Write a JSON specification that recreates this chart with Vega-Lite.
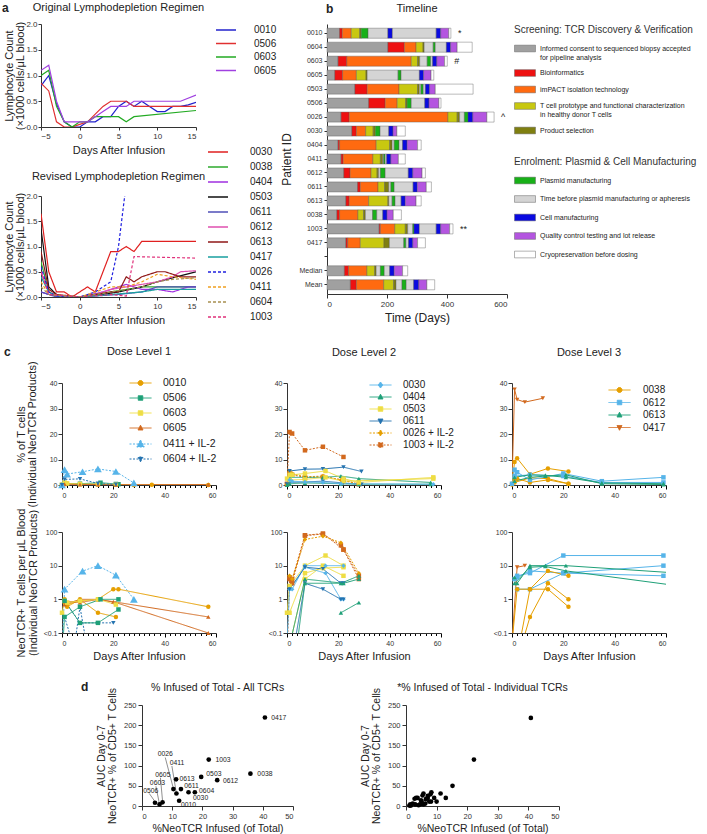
{
"$schema": "https://vega.github.io/schema/vega-lite/v6.json",
"padding": {"left": 2, "top": 2, "right": 2, "bottom": 2},
"config": {
  "font": "Liberation Sans",
  "view": {"stroke": null},
  "axis": {"grid": false, "domainColor": "#333", "tickColor": "#333", "labelColor": "#333", "titleColor": "#222", "titleFontWeight": "normal", "labelFontSize": 7.5, "titleFontSize": 10.5, "tickSize": 4, "labelPadding": 2},
  "title": {"fontSize": 11, "fontWeight": "normal", "color": "#222"},
  "legend": {"labelColor": "#222", "titleFontWeight": "normal", "labelLimit": 400, "titleLimit": 400}
},
"datasets": {
  "aTop": [
    {"p":"0010","d":-5,"v":0.8},{"p":"0010","d":-4,"v":1.0},{"p":"0010","d":-3,"v":0.45},{"p":"0010","d":-2,"v":0.1},{"p":"0010","d":-1,"v":0.0},{"p":"0010","d":0,"v":0.0},{"p":"0010","d":1,"v":0.1},{"p":"0010","d":2,"v":0.1},{"p":"0010","d":3,"v":0.2},{"p":"0010","d":4,"v":0.2},{"p":"0010","d":5,"v":0.4},{"p":"0010","d":6,"v":0.5},{"p":"0010","d":7,"v":0.4},{"p":"0010","d":8,"v":0.5},{"p":"0010","d":9,"v":0.4},{"p":"0010","d":10,"v":0.3},{"p":"0010","d":11,"v":0.3},{"p":"0010","d":12,"v":0.4},{"p":"0010","d":13,"v":0.4},{"p":"0010","d":14,"v":0.43},{"p":"0010","d":15,"v":0.48},
    {"p":"0506","d":-5,"v":0.85},{"p":"0506","d":-4,"v":0.7},{"p":"0506","d":-3,"v":0.1},{"p":"0506","d":-2,"v":0.0},{"p":"0506","d":-1,"v":0.0},{"p":"0506","d":0,"v":0.05},{"p":"0506","d":1,"v":0.1},{"p":"0506","d":2,"v":0.25},{"p":"0506","d":3,"v":0.4},{"p":"0506","d":4,"v":0.5},{"p":"0506","d":5,"v":0.5},{"p":"0506","d":6,"v":0.5},{"p":"0506","d":7,"v":0.4},{"p":"0506","d":8,"v":0.4},{"p":"0506","d":15,"v":0.4},
    {"p":"0603","d":-5,"v":1.0},{"p":"0603","d":-4,"v":1.1},{"p":"0603","d":-3,"v":0.4},{"p":"0603","d":-2,"v":0.1},{"p":"0603","d":-1,"v":0.0},{"p":"0603","d":0,"v":0.1},{"p":"0603","d":1,"v":0.1},{"p":"0603","d":2,"v":0.2},{"p":"0603","d":3,"v":0.2},{"p":"0603","d":4,"v":0.2},{"p":"0603","d":5,"v":0.2},{"p":"0603","d":6,"v":0.1},{"p":"0603","d":7,"v":0.2},{"p":"0603","d":15,"v":0.32},
    {"p":"0605","d":-5,"v":1.1},{"p":"0605","d":-4,"v":1.2},{"p":"0605","d":-3,"v":0.5},{"p":"0605","d":-2,"v":0.1},{"p":"0605","d":-1,"v":0.1},{"p":"0605","d":0,"v":0.1},{"p":"0605","d":1,"v":0.1},{"p":"0605","d":2,"v":0.2},{"p":"0605","d":3,"v":0.3},{"p":"0605","d":4,"v":0.4},{"p":"0605","d":5,"v":0.4},{"p":"0605","d":6,"v":0.4},{"p":"0605","d":7,"v":0.5},{"p":"0605","d":13,"v":0.5},{"p":"0605","d":15,"v":0.62}
  ],
  "aBot": [
    {"p":"0030","d":-5,"v":1.65},{"p":"0030","d":-4,"v":0.5},{"p":"0030","d":-3,"v":0.1},{"p":"0030","d":-2,"v":0.1},{"p":"0030","d":-1,"v":0.0},{"p":"0030","d":0,"v":0.1},{"p":"0030","d":1,"v":0.2},{"p":"0030","d":2,"v":0.1},{"p":"0030","d":3,"v":0.5},{"p":"0030","d":4,"v":0.9},{"p":"0030","d":5,"v":0.9},{"p":"0030","d":6,"v":1.0},{"p":"0030","d":7,"v":0.9},{"p":"0030","d":8,"v":1.1},{"p":"0030","d":15,"v":1.1},
    {"p":"0038","d":-5,"v":0.7},{"p":"0038","d":-4,"v":0.1},{"p":"0038","d":-3,"v":0.02},{"p":"0038","d":-2,"v":0.0},{"p":"0038","d":0,"v":0.0},{"p":"0038","d":2,"v":0.05},{"p":"0038","d":4,"v":0.1},{"p":"0038","d":6,"v":0.15},{"p":"0038","d":8,"v":0.2},{"p":"0038","d":15,"v":0.2},
    {"p":"0404","d":-5,"v":0.1},{"p":"0404","d":-4,"v":0.05},{"p":"0404","d":-3,"v":0.02},{"p":"0404","d":0,"v":0.0},{"p":"0404","d":3,"v":0.1},{"p":"0404","d":5,"v":0.2},{"p":"0404","d":6,"v":0.25},{"p":"0404","d":8,"v":0.15},{"p":"0404","d":10,"v":0.15},{"p":"0404","d":12,"v":0.1},{"p":"0404","d":13,"v":0.15},{"p":"0404","d":14,"v":0.2},{"p":"0404","d":15,"v":0.2},
    {"p":"0503","d":-5,"v":1.35},{"p":"0503","d":-4,"v":0.2},{"p":"0503","d":-3,"v":0.05},{"p":"0503","d":-2,"v":0.0},{"p":"0503","d":0,"v":0.0},{"p":"0503","d":3,"v":0.05},{"p":"0503","d":5,"v":0.1},{"p":"0503","d":8,"v":0.2},{"p":"0503","d":10,"v":0.3},{"p":"0503","d":15,"v":0.5},
    {"p":"0611","d":-5,"v":0.1},{"p":"0611","d":-4,"v":0.05},{"p":"0611","d":-3,"v":0.0},{"p":"0611","d":0,"v":0.0},{"p":"0611","d":5,"v":0.05},{"p":"0611","d":8,"v":0.1},{"p":"0611","d":10,"v":0.2},{"p":"0611","d":15,"v":0.2},
    {"p":"0612","d":-5,"v":0.5},{"p":"0612","d":-4,"v":0.1},{"p":"0612","d":-3,"v":0.02},{"p":"0612","d":0,"v":0.0},{"p":"0612","d":2,"v":0.05},{"p":"0612","d":4,"v":0.15},{"p":"0612","d":6,"v":0.2},{"p":"0612","d":8,"v":0.25},{"p":"0612","d":10,"v":0.3},{"p":"0612","d":12,"v":0.4},{"p":"0612","d":13,"v":0.5},{"p":"0612","d":15,"v":0.52},
    {"p":"0613","d":-5,"v":0.9},{"p":"0613","d":-4,"v":0.15},{"p":"0613","d":-3,"v":0.05},{"p":"0613","d":0,"v":0.0},{"p":"0613","d":2,"v":0.05},{"p":"0613","d":4,"v":0.1},{"p":"0613","d":5,"v":0.1},{"p":"0613","d":6,"v":0.4},{"p":"0613","d":7,"v":0.3},{"p":"0613","d":8,"v":0.4},{"p":"0613","d":9,"v":0.45},{"p":"0613","d":10,"v":0.5},{"p":"0613","d":11,"v":0.5},{"p":"0613","d":12,"v":0.45},{"p":"0613","d":13,"v":0.4},{"p":"0613","d":15,"v":0.4},
    {"p":"0417","d":-5,"v":0.4},{"p":"0417","d":-4,"v":0.1},{"p":"0417","d":-3,"v":0.02},{"p":"0417","d":0,"v":0.0},{"p":"0417","d":4,"v":0.05},{"p":"0417","d":8,"v":0.1},{"p":"0417","d":10,"v":0.15},{"p":"0417","d":15,"v":0.15},
    {"p":"0026","d":-5,"v":0.6},{"p":"0026","d":-4,"v":0.1},{"p":"0026","d":-3,"v":0.02},{"p":"0026","d":-1,"v":0.0},{"p":"0026","d":0,"v":0.0},{"p":"0026","d":2,"v":0.1},{"p":"0026","d":3,"v":0.2},{"p":"0026","d":4,"v":0.3},{"p":"0026","d":5,"v":1.0},{"p":"0026","d":5.8,"v":2.0},
    {"p":"0411","d":-5,"v":0.3},{"p":"0411","d":-4,"v":0.05},{"p":"0411","d":0,"v":0.0},{"p":"0411","d":4,"v":0.2},{"p":"0411","d":6,"v":0.2},{"p":"0411","d":8,"v":0.3},{"p":"0411","d":10,"v":0.45},{"p":"0411","d":12,"v":0.4},{"p":"0411","d":15,"v":0.35},
    {"p":"0604","d":-5,"v":0.2},{"p":"0604","d":-4,"v":0.05},{"p":"0604","d":0,"v":0.0},{"p":"0604","d":4,"v":0.1},{"p":"0604","d":8,"v":0.2},{"p":"0604","d":10,"v":0.3},{"p":"0604","d":12,"v":0.35},{"p":"0604","d":15,"v":0.38},
    {"p":"1003","d":-5,"v":0.5},{"p":"1003","d":-4,"v":0.05},{"p":"1003","d":0,"v":0.0},{"p":"1003","d":4,"v":0.05},{"p":"1003","d":6,"v":0.02},{"p":"1003","d":7,"v":0.8},{"p":"1003","d":15,"v":0.77}
  ],
  "tl": [
    {"p":"0010","c":"IC","a":0,"b":42},{"p":"0010","c":"BI","a":42,"b":51},{"p":"0010","c":"IM","a":51,"b":81},{"p":"0010","c":"TC","a":81,"b":109},{"p":"0010","c":"PS","a":109,"b":114},{"p":"0010","c":"PM","a":114,"b":137},{"p":"0010","c":"TB","a":137,"b":203},{"p":"0010","c":"CM","a":203,"b":218},{"p":"0010","c":"TB","a":218,"b":364},{"p":"0010","c":"CM","a":364,"b":379},{"p":"0010","c":"QC","a":379,"b":406},{"p":"0010","c":"CR","a":406,"b":413},
    {"p":"0604","c":"IC","a":0,"b":203},{"p":"0604","c":"BI","a":203,"b":258},{"p":"0604","c":"IM","a":258,"b":297},{"p":"0604","c":"TC","a":297,"b":320},{"p":"0604","c":"PS","a":320,"b":324},{"p":"0604","c":"TB","a":324,"b":354},{"p":"0604","c":"PM","a":354,"b":361},{"p":"0604","c":"TB","a":361,"b":398},{"p":"0604","c":"CM","a":398,"b":412},{"p":"0604","c":"QC","a":412,"b":434},{"p":"0604","c":"CR","a":434,"b":484},
    {"p":"0603","c":"IC","a":0,"b":37},{"p":"0603","c":"BI","a":37,"b":66},{"p":"0603","c":"IM","a":66,"b":281},{"p":"0603","c":"TC","a":281,"b":302},{"p":"0603","c":"PS","a":302,"b":309},{"p":"0603","c":"TB","a":309,"b":334},{"p":"0603","c":"PM","a":334,"b":346},{"p":"0603","c":"TB","a":346,"b":352},{"p":"0603","c":"CM","a":352,"b":366},{"p":"0603","c":"QC","a":366,"b":392},{"p":"0603","c":"CR","a":392,"b":401},
    {"p":"0605","c":"IC","a":0,"b":26},{"p":"0605","c":"BI","a":26,"b":52},{"p":"0605","c":"IM","a":52,"b":98},{"p":"0605","c":"TC","a":98,"b":130},{"p":"0605","c":"PS","a":130,"b":134},{"p":"0605","c":"TB","a":134,"b":237},{"p":"0605","c":"PM","a":237,"b":247},{"p":"0605","c":"TB","a":247,"b":308},{"p":"0605","c":"CM","a":308,"b":322},{"p":"0605","c":"QC","a":322,"b":347},{"p":"0605","c":"CR","a":347,"b":356},
    {"p":"0503","c":"IC","a":0,"b":93},{"p":"0503","c":"BI","a":93,"b":134},{"p":"0503","c":"IM","a":134,"b":240},{"p":"0503","c":"TC","a":240,"b":302},{"p":"0503","c":"PS","a":302,"b":308},{"p":"0503","c":"TB","a":308,"b":313},{"p":"0503","c":"PM","a":313,"b":321},{"p":"0503","c":"TB","a":321,"b":328},{"p":"0503","c":"CM","a":328,"b":342},{"p":"0503","c":"QC","a":342,"b":361},{"p":"0503","c":"CR","a":361,"b":487},
    {"p":"0506","c":"IC","a":0,"b":139},{"p":"0506","c":"BI","a":139,"b":194},{"p":"0506","c":"IM","a":194,"b":234},{"p":"0506","c":"TC","a":234,"b":262},{"p":"0506","c":"PS","a":262,"b":267},{"p":"0506","c":"PM","a":267,"b":281},{"p":"0506","c":"TB","a":281,"b":326},{"p":"0506","c":"CM","a":326,"b":340},{"p":"0506","c":"QC","a":340,"b":373},{"p":"0506","c":"CR","a":373,"b":380},
    {"p":"0026","c":"IC","a":0,"b":47},{"p":"0026","c":"BI","a":47,"b":74},{"p":"0026","c":"IM","a":74,"b":403},{"p":"0026","c":"TC","a":403,"b":434},{"p":"0026","c":"PS","a":434,"b":442},{"p":"0026","c":"TB","a":442,"b":458},{"p":"0026","c":"PM","a":458,"b":470},{"p":"0026","c":"CM","a":470,"b":486},{"p":"0026","c":"QC","a":486,"b":533},{"p":"0026","c":"CR","a":533,"b":557},
    {"p":"0030","c":"IC","a":0,"b":83},{"p":"0030","c":"BI","a":83,"b":98},{"p":"0030","c":"IM","a":98,"b":129},{"p":"0030","c":"TC","a":129,"b":154},{"p":"0030","c":"PS","a":154,"b":161},{"p":"0030","c":"PM","a":161,"b":177},{"p":"0030","c":"TB","a":177,"b":206},{"p":"0030","c":"CM","a":206,"b":220},{"p":"0030","c":"QC","a":220,"b":233},{"p":"0030","c":"CR","a":233,"b":261},
    {"p":"0404","c":"IC","a":0,"b":37},{"p":"0404","c":"BI","a":37,"b":42},{"p":"0404","c":"IM","a":42,"b":164},{"p":"0404","c":"TC","a":164,"b":209},{"p":"0404","c":"PS","a":209,"b":217},{"p":"0404","c":"TB","a":217,"b":224},{"p":"0404","c":"PM","a":224,"b":240},{"p":"0404","c":"TB","a":240,"b":252},{"p":"0404","c":"CM","a":252,"b":267},{"p":"0404","c":"QC","a":267,"b":302},{"p":"0404","c":"CR","a":302,"b":314},
    {"p":"0411","c":"IC","a":0,"b":47},{"p":"0411","c":"BI","a":47,"b":54},{"p":"0411","c":"IM","a":54,"b":153},{"p":"0411","c":"TC","a":153,"b":178},{"p":"0411","c":"PS","a":178,"b":186},{"p":"0411","c":"TB","a":186,"b":189},{"p":"0411","c":"PM","a":189,"b":194},{"p":"0411","c":"TB","a":194,"b":199},{"p":"0411","c":"CM","a":199,"b":213},{"p":"0411","c":"QC","a":213,"b":238},{"p":"0411","c":"CR","a":238,"b":261},
    {"p":"0612","c":"IC","a":0,"b":56},{"p":"0612","c":"BI","a":56,"b":77},{"p":"0612","c":"IM","a":77,"b":147},{"p":"0612","c":"TC","a":147,"b":167},{"p":"0612","c":"PS","a":167,"b":172},{"p":"0612","c":"TB","a":172,"b":178},{"p":"0612","c":"PM","a":178,"b":194},{"p":"0612","c":"TB","a":194,"b":271},{"p":"0612","c":"CM","a":271,"b":286},{"p":"0612","c":"QC","a":286,"b":317},{"p":"0612","c":"CR","a":317,"b":328},
    {"p":"0611","c":"IC","a":0,"b":102},{"p":"0611","c":"BI","a":102,"b":111},{"p":"0611","c":"IM","a":111,"b":170},{"p":"0611","c":"TC","a":170,"b":192},{"p":"0611","c":"PS","a":192,"b":206},{"p":"0611","c":"TB","a":206,"b":213},{"p":"0611","c":"PM","a":213,"b":224},{"p":"0611","c":"TB","a":224,"b":287},{"p":"0611","c":"CM","a":287,"b":301},{"p":"0611","c":"QC","a":301,"b":331},{"p":"0611","c":"CR","a":331,"b":348},
    {"p":"0613","c":"IC","a":0,"b":63},{"p":"0613","c":"BI","a":63,"b":74},{"p":"0613","c":"IM","a":74,"b":139},{"p":"0613","c":"TC","a":139,"b":203},{"p":"0613","c":"PS","a":203,"b":206},{"p":"0613","c":"TB","a":206,"b":217},{"p":"0613","c":"PM","a":217,"b":227},{"p":"0613","c":"TB","a":227,"b":247},{"p":"0613","c":"CM","a":247,"b":261},{"p":"0613","c":"QC","a":261,"b":297},{"p":"0613","c":"CR","a":297,"b":314},
    {"p":"0038","c":"IC","a":0,"b":33},{"p":"0038","c":"BI","a":33,"b":42},{"p":"0038","c":"IM","a":42,"b":103},{"p":"0038","c":"TC","a":103,"b":122},{"p":"0038","c":"PS","a":122,"b":128},{"p":"0038","c":"TB","a":128,"b":152},{"p":"0038","c":"PM","a":152,"b":166},{"p":"0038","c":"TB","a":166,"b":186},{"p":"0038","c":"CM","a":186,"b":200},{"p":"0038","c":"QC","a":200,"b":221},{"p":"0038","c":"CR","a":221,"b":248},
    {"p":"1003","c":"IC","a":0,"b":174},{"p":"1003","c":"BI","a":174,"b":178},{"p":"1003","c":"IM","a":178,"b":226},{"p":"1003","c":"TC","a":226,"b":261},{"p":"1003","c":"PS","a":261,"b":269},{"p":"1003","c":"TB","a":269,"b":286},{"p":"1003","c":"PM","a":286,"b":290},{"p":"1003","c":"CM","a":290,"b":308},{"p":"1003","c":"TB","a":308,"b":364},{"p":"1003","c":"CM","a":364,"b":379},{"p":"1003","c":"QC","a":379,"b":409},{"p":"1003","c":"CR","a":409,"b":420},
    {"p":"0417","c":"IC","a":0,"b":63},{"p":"0417","c":"BI","a":63,"b":69},{"p":"0417","c":"IM","a":69,"b":111},{"p":"0417","c":"TC","a":111,"b":190},{"p":"0417","c":"PS","a":190,"b":208},{"p":"0417","c":"TB","a":208,"b":256},{"p":"0417","c":"PM","a":256,"b":263},{"p":"0417","c":"TB","a":263,"b":272},{"p":"0417","c":"CM","a":272,"b":286},{"p":"0417","c":"QC","a":286,"b":302},{"p":"0417","c":"CR","a":302,"b":328},
    {"p":"Median","c":"IC","a":0,"b":58},{"p":"Median","c":"BI","a":58,"b":72},{"p":"Median","c":"IM","a":72,"b":133},{"p":"Median","c":"TC","a":133,"b":159},{"p":"Median","c":"PS","a":159,"b":164},{"p":"Median","c":"TB","a":164,"b":178},{"p":"Median","c":"PM","a":178,"b":191},{"p":"Median","c":"TB","a":191,"b":209},{"p":"Median","c":"CM","a":209,"b":224},{"p":"Median","c":"QC","a":224,"b":252},{"p":"Median","c":"CR","a":252,"b":269},
    {"p":"Mean","c":"IC","a":0,"b":78},{"p":"Mean","c":"BI","a":78,"b":98},{"p":"Mean","c":"IM","a":98,"b":189},{"p":"Mean","c":"TC","a":189,"b":222},{"p":"Mean","c":"PS","a":222,"b":230},{"p":"Mean","c":"TB","a":230,"b":250},{"p":"Mean","c":"PM","a":250,"b":264},{"p":"Mean","c":"TB","a":264,"b":289},{"p":"Mean","c":"CM","a":289,"b":306},{"p":"Mean","c":"QC","a":306,"b":333},{"p":"Mean","c":"CR","a":333,"b":359}
  ],
  "tlNote": [
    {"p":"0010","x":413,"n":"*"},{"p":"0603","x":401,"n":"#"},{"p":"0026","x":557,"n":"^"},{"p":"1003","x":420,"n":"**"}
  ],
  "c1p": [
    {"p":"0010","t":1,"d":0,"v":0},{"p":"0010","t":1,"d":1,"v":0.8},{"p":"0010","t":1,"d":2,"v":0.6},{"p":"0010","t":1,"d":7,"v":0.4},{"p":"0010","t":1,"d":14,"v":0.3},{"p":"0010","t":1,"d":21,"v":0.2},{"p":"0010","t":1,"d":28,"v":0},{"p":"0010","t":1,"d":35,"v":0.1},{"p":"0010","t":1,"d":57,"v":0},
    {"p":"0506","t":1,"d":0,"v":0},{"p":"0506","t":1,"d":1,"v":0.5},{"p":"0506","t":1,"d":7,"v":0.5},{"p":"0506","t":1,"d":15,"v":0.9},{"p":"0506","t":1,"d":21,"v":0.4},{"p":"0506","t":1,"d":22,"v":0.3},
    {"p":"0603","t":1,"d":0,"v":0.2},{"p":"0603","t":1,"d":1,"v":1.0},{"p":"0603","t":1,"d":2,"v":0.6},{"p":"0603","t":1,"d":7,"v":0.4},{"p":"0603","t":1,"d":14,"v":0.3},{"p":"0603","t":1,"d":21,"v":0.2},
    {"p":"0605","t":1,"d":0,"v":0},{"p":"0605","t":1,"d":1,"v":0.3},{"p":"0605","t":1,"d":7,"v":0.2},{"p":"0605","t":1,"d":14,"v":0.2},{"p":"0605","t":1,"d":21,"v":0.1},{"p":"0605","t":1,"d":57,"v":0.2},
    {"p":"0411 + IL-2","t":1,"d":0,"v":0},{"p":"0411 + IL-2","t":1,"d":1,"v":6.0},{"p":"0411 + IL-2","t":1,"d":2,"v":4.3},{"p":"0411 + IL-2","t":1,"d":8,"v":5.2},{"p":"0411 + IL-2","t":1,"d":14,"v":6.3},{"p":"0411 + IL-2","t":1,"d":21,"v":5.3},{"p":"0411 + IL-2","t":1,"d":28,"v":0.8},
    {"p":"0604 + IL-2","t":1,"d":0,"v":0},{"p":"0604 + IL-2","t":1,"d":1,"v":2.2},{"p":"0604 + IL-2","t":1,"d":7,"v":2.4},{"p":"0604 + IL-2","t":1,"d":14,"v":0.6},{"p":"0604 + IL-2","t":1,"d":21,"v":0.2}
  ],
  "c1a": [
    {"p":"0411 + IL-2","t":1,"d":0,"v":0.02},{"p":"0411 + IL-2","t":1,"d":1,"v":2.0},{"p":"0411 + IL-2","t":1,"d":8,"v":6.9},{"p":"0411 + IL-2","t":1,"d":14,"v":10},{"p":"0411 + IL-2","t":1,"d":21,"v":5.2},{"p":"0411 + IL-2","t":1,"d":28,"v":1.0},
    {"p":"0604 + IL-2","t":1,"d":1,"v":0.9},{"p":"0604 + IL-2","t":1,"d":7,"v":0.2},{"p":"0604 + IL-2","t":1,"d":14,"v":0.2},{"p":"0604 + IL-2","t":1,"d":20,"v":0.2},
    {"p":"0604 + IL-2","t":2,"d":1,"v":0.3},{"p":"0604 + IL-2","t":2,"d":5,"v":0.03},
    {"p":"0604 + IL-2","t":3,"d":5,"v":0.05},{"p":"0604 + IL-2","t":3,"d":7,"v":0.6},{"p":"0604 + IL-2","t":3,"d":10,"v":0.03},
    {"p":"0010","t":1,"d":1,"v":1.0},{"p":"0010","t":1,"d":2,"v":0.7},{"p":"0010","t":1,"d":7,"v":0.9},{"p":"0010","t":1,"d":14,"v":1.0},{"p":"0010","t":1,"d":20,"v":2.0},{"p":"0010","t":1,"d":22,"v":2.0},{"p":"0010","t":1,"d":57,"v":0.6},
    {"p":"0010","t":2,"d":1,"v":0.8},{"p":"0010","t":2,"d":2,"v":0.6},{"p":"0010","t":2,"d":7,"v":1.0},{"p":"0010","t":2,"d":14,"v":0.4},{"p":"0010","t":2,"d":21,"v":0.3},
    {"p":"0605","t":1,"d":1,"v":0.7},{"p":"0605","t":1,"d":7,"v":1.0},{"p":"0605","t":1,"d":14,"v":1.0},{"p":"0605","t":1,"d":20,"v":0.85},{"p":"0605","t":1,"d":57,"v":0.3},
    {"p":"0605","t":2,"d":1,"v":0.9},{"p":"0605","t":2,"d":7,"v":0.8},{"p":"0605","t":2,"d":14,"v":1.0},{"p":"0605","t":2,"d":21,"v":0.8},{"p":"0605","t":2,"d":57,"v":0.1},
    {"p":"0603","t":1,"d":0,"v":0.4},{"p":"0603","t":1,"d":1,"v":0.9},{"p":"0603","t":1,"d":2,"v":0.8},{"p":"0603","t":1,"d":7,"v":0.9},{"p":"0603","t":1,"d":14,"v":1.0},{"p":"0603","t":1,"d":21,"v":0.7},
    {"p":"0506","t":1,"d":0,"v":0.02},{"p":"0506","t":1,"d":1,"v":0.3},{"p":"0506","t":1,"d":7,"v":0.6},{"p":"0506","t":1,"d":15,"v":1.0},{"p":"0506","t":1,"d":22,"v":1.0},
    {"p":"0506","t":2,"d":1,"v":0.9},{"p":"0506","t":2,"d":7,"v":0.2},{"p":"0506","t":2,"d":14,"v":0.2},{"p":"0506","t":2,"d":22,"v":0.5}
  ],
  "c2p": [
    {"p":"1003 + IL-2","t":1,"d":0,"v":0.5},{"p":"1003 + IL-2","t":1,"d":1,"v":20.8},{"p":"1003 + IL-2","t":1,"d":2,"v":20.2},{"p":"1003 + IL-2","t":1,"d":7,"v":13.6},{"p":"1003 + IL-2","t":1,"d":14,"v":15},{"p":"1003 + IL-2","t":1,"d":22,"v":11},
    {"p":"1003 + IL-2","t":2,"d":0,"v":0.3},{"p":"1003 + IL-2","t":2,"d":1,"v":4.5},{"p":"1003 + IL-2","t":2,"d":2,"v":4.0},{"p":"1003 + IL-2","t":2,"d":7,"v":3.0},{"p":"1003 + IL-2","t":2,"d":14,"v":3.2},{"p":"1003 + IL-2","t":2,"d":22,"v":2.0},{"p":"1003 + IL-2","t":2,"d":28,"v":0.3},
    {"p":"0026 + IL-2","t":1,"d":0,"v":0.2},{"p":"0026 + IL-2","t":1,"d":1,"v":5.5},{"p":"0026 + IL-2","t":1,"d":2,"v":4.5},{"p":"0026 + IL-2","t":1,"d":7,"v":3.2},{"p":"0026 + IL-2","t":1,"d":14,"v":3.5},{"p":"0026 + IL-2","t":1,"d":21,"v":2.0},{"p":"0026 + IL-2","t":1,"d":28,"v":0.3},
    {"p":"0611","t":1,"d":0,"v":0.3},{"p":"0611","t":1,"d":1,"v":5.5},{"p":"0611","t":1,"d":7,"v":6.2},{"p":"0611","t":1,"d":14,"v":6.3},{"p":"0611","t":1,"d":22,"v":7.0},{"p":"0611","t":1,"d":29,"v":5.3},
    {"p":"0611","t":2,"d":1,"v":1.0},{"p":"0611","t":2,"d":7,"v":1.2},{"p":"0611","t":2,"d":14,"v":1.5},{"p":"0611","t":2,"d":22,"v":0.8},{"p":"0611","t":2,"d":29,"v":0.2},
    {"p":"0404","t":1,"d":0,"v":0},{"p":"0404","t":1,"d":1,"v":3.0},{"p":"0404","t":1,"d":7,"v":3.0},{"p":"0404","t":1,"d":14,"v":3.0},{"p":"0404","t":1,"d":21,"v":3.5},{"p":"0404","t":1,"d":28,"v":2.5},{"p":"0404","t":1,"d":56,"v":1.0},
    {"p":"0404","t":2,"d":1,"v":0.5},{"p":"0404","t":2,"d":7,"v":0.8},{"p":"0404","t":2,"d":21,"v":0.5},{"p":"0404","t":2,"d":28,"v":0.3},{"p":"0404","t":2,"d":56,"v":0.3},
    {"p":"0503","t":1,"d":0,"v":2.5},{"p":"0503","t":1,"d":1,"v":4.0},{"p":"0503","t":1,"d":2,"v":4.0},{"p":"0503","t":1,"d":7,"v":4.5},{"p":"0503","t":1,"d":15,"v":5.5},{"p":"0503","t":1,"d":22,"v":2.5},{"p":"0503","t":1,"d":28,"v":1.0},{"p":"0503","t":1,"d":57,"v":3.0},
    {"p":"0503","t":2,"d":1,"v":2.0},{"p":"0503","t":2,"d":7,"v":2.2},{"p":"0503","t":2,"d":15,"v":3.0},{"p":"0503","t":2,"d":22,"v":1.5},{"p":"0503","t":2,"d":57,"v":2.5},
    {"p":"0030","t":1,"d":1,"v":2.0},{"p":"0030","t":1,"d":2,"v":1.5},{"p":"0030","t":1,"d":7,"v":1.2},{"p":"0030","t":1,"d":14,"v":1.0},{"p":"0030","t":1,"d":21,"v":0.5},{"p":"0030","t":1,"d":57,"v":0.3}
  ],
  "c2a": [
    {"p":"1003 + IL-2","t":1,"d":0,"v":0.02},{"p":"1003 + IL-2","t":1,"d":1,"v":4.0},{"p":"1003 + IL-2","t":1,"d":2,"v":3.0},{"p":"1003 + IL-2","t":1,"d":7,"v":78},{"p":"1003 + IL-2","t":1,"d":14,"v":87},{"p":"1003 + IL-2","t":1,"d":21,"v":40},{"p":"1003 + IL-2","t":1,"d":22,"v":30},{"p":"1003 + IL-2","t":1,"d":28,"v":5},
    {"p":"1003 + IL-2","t":2,"d":1,"v":4.5},{"p":"1003 + IL-2","t":2,"d":2,"v":4.0},{"p":"1003 + IL-2","t":2,"d":7,"v":80},{"p":"1003 + IL-2","t":2,"d":14,"v":90},{"p":"1003 + IL-2","t":2,"d":22,"v":30},{"p":"1003 + IL-2","t":2,"d":28,"v":4},
    {"p":"0026 + IL-2","t":1,"d":1,"v":5.0},{"p":"0026 + IL-2","t":1,"d":2,"v":4.0},{"p":"0026 + IL-2","t":1,"d":7,"v":60},{"p":"0026 + IL-2","t":1,"d":14,"v":75},{"p":"0026 + IL-2","t":1,"d":21,"v":48},{"p":"0026 + IL-2","t":1,"d":28,"v":6},
    {"p":"0503","t":1,"d":0,"v":0.4},{"p":"0503","t":1,"d":1,"v":2.5},{"p":"0503","t":1,"d":7,"v":10},{"p":"0503","t":1,"d":15,"v":20},{"p":"0503","t":1,"d":22,"v":10},
    {"p":"0503","t":2,"d":0,"v":0.02},{"p":"0503","t":2,"d":7,"v":4.0},{"p":"0503","t":2,"d":14,"v":10},{"p":"0503","t":2,"d":22,"v":5.0},
    {"p":"0503","t":3,"d":1,"v":0.4},{"p":"0503","t":3,"d":7,"v":6.0},{"p":"0503","t":3,"d":14,"v":8.5},{"p":"0503","t":3,"d":22,"v":9.0},
    {"p":"0030","t":1,"d":0,"v":0.05},{"p":"0030","t":1,"d":1,"v":2.0},{"p":"0030","t":1,"d":2,"v":2.0},{"p":"0030","t":1,"d":7,"v":10},{"p":"0030","t":1,"d":15,"v":10},{"p":"0030","t":1,"d":22,"v":10},
    {"p":"0030","t":2,"d":1,"v":2.0},{"p":"0030","t":2,"d":7,"v":9},{"p":"0030","t":2,"d":15,"v":6},{"p":"0030","t":2,"d":21,"v":1.0},{"p":"0030","t":2,"d":22,"v":1.0},
    {"p":"0611","t":1,"d":3,"v":0.05},{"p":"0611","t":1,"d":7,"v":3.0},{"p":"0611","t":1,"d":14,"v":2.0},{"p":"0611","t":1,"d":21,"v":1.0},{"p":"0611","t":1,"d":22,"v":1.0},
    {"p":"0611","t":2,"d":1,"v":2.0},{"p":"0611","t":2,"d":7,"v":9},{"p":"0611","t":2,"d":14,"v":8},{"p":"0611","t":2,"d":21,"v":3},{"p":"0611","t":2,"d":22,"v":3},
    {"p":"0404","t":1,"d":4,"v":0.05},{"p":"0404","t":1,"d":7,"v":3.0},{"p":"0404","t":1,"d":21,"v":3.0},{"p":"0404","t":1,"d":28,"v":5.0},
    {"p":"0404","t":2,"d":21,"v":0.4},{"p":"0404","t":2,"d":28,"v":0.8},
    {"p":"0404","t":3,"d":0,"v":0.02},{"p":"0404","t":3,"d":7,"v":4.0},{"p":"0404","t":3,"d":22,"v":3.0},{"p":"0404","t":3,"d":28,"v":4.0}
  ],
  "c3p": [
    {"p":"0417","t":1,"d":0,"v":0},{"p":"0417","t":1,"d":1,"v":37.5},{"p":"0417","t":1,"d":2,"v":33.5},{"p":"0417","t":1,"d":5,"v":32.5},{"p":"0417","t":1,"d":12,"v":34},
    {"p":"0038","t":1,"d":0,"v":0.5},{"p":"0038","t":1,"d":1,"v":9},{"p":"0038","t":1,"d":2,"v":10.5},{"p":"0038","t":1,"d":7,"v":4.2},{"p":"0038","t":1,"d":14,"v":6.5},{"p":"0038","t":1,"d":22,"v":5.3},
    {"p":"0038","t":2,"d":0,"v":0.2},{"p":"0038","t":2,"d":1,"v":2.0},{"p":"0038","t":2,"d":2,"v":2.5},{"p":"0038","t":2,"d":7,"v":1.0},{"p":"0038","t":2,"d":14,"v":2.0},{"p":"0038","t":2,"d":22,"v":0.5},
    {"p":"0038","t":3,"d":1,"v":1.0},{"p":"0038","t":3,"d":7,"v":2.8},{"p":"0038","t":3,"d":14,"v":2.5},{"p":"0038","t":3,"d":22,"v":0.5},
    {"p":"0612","t":1,"d":0,"v":0.5},{"p":"0612","t":1,"d":1,"v":6.0},{"p":"0612","t":1,"d":2,"v":5.0},{"p":"0612","t":1,"d":7,"v":2.0},{"p":"0612","t":1,"d":20,"v":4.5},{"p":"0612","t":1,"d":35,"v":1.5},{"p":"0612","t":1,"d":59,"v":3.0},
    {"p":"0612","t":2,"d":1,"v":3.5},{"p":"0612","t":2,"d":7,"v":4.0},{"p":"0612","t":2,"d":20,"v":3.5},{"p":"0612","t":2,"d":35,"v":1.0},{"p":"0612","t":2,"d":59,"v":1.0},
    {"p":"0613","t":1,"d":1,"v":3.0},{"p":"0613","t":1,"d":7,"v":4.0},{"p":"0613","t":1,"d":13,"v":3.8},{"p":"0613","t":1,"d":21,"v":3.0},{"p":"0613","t":1,"d":35,"v":0.8},{"p":"0613","t":1,"d":59,"v":0.5},
    {"p":"0613","t":2,"d":1,"v":1.5},{"p":"0613","t":2,"d":7,"v":3.0},{"p":"0613","t":2,"d":13,"v":3.5},{"p":"0613","t":2,"d":21,"v":4.0},{"p":"0613","t":2,"d":35,"v":0.5},{"p":"0613","t":2,"d":59,"v":0.2}
  ],
  "c3a": [
    {"p":"0612","t":1,"d":2,"v":5.0},{"p":"0612","t":1,"d":7,"v":6.0},{"p":"0612","t":1,"d":20,"v":20},{"p":"0612","t":1,"d":59,"v":20},
    {"p":"0612","t":2,"d":2,"v":2.0},{"p":"0612","t":2,"d":7,"v":2.0},{"p":"0612","t":2,"d":20,"v":6.0},{"p":"0612","t":2,"d":59,"v":10},
    {"p":"0612","t":3,"d":1,"v":4.0},{"p":"0612","t":3,"d":2,"v":4.5},{"p":"0612","t":3,"d":7,"v":7},{"p":"0612","t":3,"d":20,"v":6},{"p":"0612","t":3,"d":59,"v":5},
    {"p":"0613","t":1,"d":1,"v":4.5},{"p":"0613","t":1,"d":2,"v":3.0},{"p":"0613","t":1,"d":7,"v":10},{"p":"0613","t":1,"d":13,"v":10},{"p":"0613","t":1,"d":21,"v":10},{"p":"0613","t":1,"d":65,"v":6.0},
    {"p":"0613","t":2,"d":1,"v":3.0},{"p":"0613","t":2,"d":7,"v":9},{"p":"0613","t":2,"d":13,"v":9.5},{"p":"0613","t":2,"d":21,"v":7},{"p":"0613","t":2,"d":65,"v":2.5},
    {"p":"0417","t":1,"d":0,"v":0.05},{"p":"0417","t":1,"d":2,"v":9.0},{"p":"0417","t":1,"d":5,"v":10},
    {"p":"0038","t":1,"d":3,"v":0.05},{"p":"0038","t":1,"d":7,"v":2.0},{"p":"0038","t":1,"d":14,"v":7.0},{"p":"0038","t":1,"d":22,"v":5.0},
    {"p":"0038","t":2,"d":4,"v":0.05},{"p":"0038","t":2,"d":7,"v":0.3},{"p":"0038","t":2,"d":14,"v":3.0},{"p":"0038","t":2,"d":22,"v":1.0},
    {"p":"0038","t":3,"d":0,"v":0.05},{"p":"0038","t":3,"d":2,"v":2.0},{"p":"0038","t":3,"d":7,"v":2.0},{"p":"0038","t":3,"d":14,"v":2.0},{"p":"0038","t":3,"d":22,"v":0.6}
  ],
  "dAll": [
    {"p":"0417","x":40.7,"y":219,"lx":42.8,"ly":219},
    {"p":"1003","x":22.1,"y":115,"lx":24.3,"ly":115},
    {"p":"0038","x":35.9,"y":80,"lx":38.2,"ly":80},
    {"p":"0612","x":24.9,"y":64,"lx":26.8,"ly":63},
    {"p":"0503","x":19.6,"y":72,"lx":21.3,"ly":80},
    {"p":"0604","x":17.5,"y":34,"lx":18.9,"ly":36},
    {"p":"0611","x":12.9,"y":42,"lx":14.0,"ly":50},
    {"p":"0613","x":11.3,"y":66,"lx":12.4,"ly":68},
    {"p":"0030","x":15.4,"y":34,"lx":16.9,"ly":19},
    {"p":"0010","x":12.3,"y":13,"lx":12.9,"ly":3},
    {"p":"0411","x":11.4,"y":31,"lx":9.2,"ly":107,"sx":9.9,"sy":99,"ex":11.3,"ey":35},
    {"p":"0026","x":10.4,"y":42,"lx":5.2,"ly":128,"sx":7.7,"sy":120,"ex":10.3,"ey":46},
    {"p":"0605","x":6.8,"y":9,"lx":4.4,"ly":77,"sx":6.1,"sy":70,"ex":6.8,"ey":13},
    {"p":"0603","x":5.8,"y":4,"lx":2.6,"ly":56,"sx":4.6,"sy":49,"ex":5.7,"ey":8},
    {"p":"0506","x":4.3,"y":8,"lx":0.4,"ly":38,"sx":2.4,"sy":31,"ex":4.2,"ey":12}
  ],
  "dInd": [
    {"x":40.8,"y":218},{"x":22.2,"y":115},{"x":15.2,"y":50},{"x":13.0,"y":20},{"x":11.3,"y":31},{"x":10.0,"y":11},{"x":9.2,"y":20},{"x":8.2,"y":11},{"x":8.3,"y":34},{"x":8.0,"y":29},{"x":7.1,"y":20},{"x":7.1,"y":25},{"x":6.5,"y":17},{"x":6.3,"y":6},{"x":5.7,"y":31},{"x":5.4,"y":26},{"x":5.1,"y":11},{"x":4.9,"y":14},{"x":4.6,"y":4},{"x":3.8,"y":20},{"x":3.3,"y":20},{"x":2.8,"y":18},{"x":3.0,"y":4},{"x":2.2,"y":6},{"x":1.4,"y":4},{"x":1.1,"y":1},{"x":1.6,"y":1},{"x":4.1,"y":2},{"x":5.7,"y":4},{"x":7.6,"y":11}
  ]
},
"spacing": 19,
"resolve": {"scale": {"color": "independent", "shape": "independent", "strokeDash": "independent", "size": "independent"}, "legend": {"color": "independent", "shape": "independent", "strokeDash": "independent", "size": "independent"}},
"vconcat": [
 {"spacing": 20,
  "resolve": {"scale": {"color": "independent", "shape": "independent", "strokeDash": "independent", "size": "independent"}, "legend": {"color": "independent", "shape": "independent", "strokeDash": "independent", "size": "independent"}},
  "vconcat": [
  {"spacing": 3,
   "resolve": {"scale": {"color": "independent", "shape": "independent", "strokeDash": "independent", "size": "independent"}, "legend": {"color": "independent", "shape": "independent", "strokeDash": "independent", "size": "independent"}},
   "hconcat": [
   {"spacing": 69, "bounds": "flush",
    "resolve": {"scale": {"color": "independent", "strokeDash": "independent"}, "legend": {"color": "independent", "strokeDash": "independent"}},
    "title": {"text": "a", "anchor": "start", "frame": "group", "dx": -39, "offset": -13, "fontSize": 12, "fontWeight": "bold"},
    "vconcat": [
     {"width": 155, "height": 103,
      "title": {"text": "Original Lymphodepletion Regimen", "offset": 7},
      "data": {"name": "aTop"},
      "mark": {"type": "line", "strokeWidth": 1.2, "clip": true},
      "encoding": {
        "x": {"field": "d", "type": "quantitative", "scale": {"domain": [-5, 15]}, "axis": {"values": [-5, 0, 5, 10, 15], "title": "Days After Infusion", "titleFontSize": 11, "labelFontSize": 8, "tickSize": 3}},
        "y": {"field": "v", "type": "quantitative", "scale": {"domain": [0, 2]}, "axis": {"values": [0, 0.5, 1, 1.5, 2], "format": ".1f", "title": ["Lymphocyte Count", "(×1000 cells/μL blood)"], "titleFontSize": 11, "titleLineHeight": 11, "labelFontSize": 8, "tickSize": 3, "labelPadding": 1, "titlePadding": 0}},
        "color": {"field": "p", "type": "nominal", "scale": {"domain": ["0010", "0506", "0603", "0605"], "range": ["#2222cc", "#e03030", "#22aa22", "#a040e0"]},
          "legend": {"title": null, "orient": "right", "offset": 19, "padding": 0, "symbolType": "M-1,0H3", "symbolSize": 100, "symbolStrokeWidth": 1.5, "labelFontSize": 10, "labelOffset": 27, "rowPadding": 2.5}}
      }},
     {"width": 155, "height": 101,
      "title": {"text": "Revised Lymphodepletion Regimen", "offset": -36},
      "data": {"name": "aBot"},
      "mark": {"type": "line", "strokeWidth": 1.2, "clip": true},
      "encoding": {
        "x": {"field": "d", "type": "quantitative", "scale": {"domain": [-5, 15]}, "axis": {"values": [-5, 0, 5, 10, 15], "title": "Days After Infusion", "titleFontSize": 11, "labelFontSize": 8, "tickSize": 3}},
        "y": {"field": "v", "type": "quantitative", "scale": {"domain": [0, 2]}, "axis": {"values": [0, 0.5, 1, 1.5, 2], "format": ".1f", "title": ["Lymphocyte Count", "(×1000 cells/μL blood)"], "titleFontSize": 11, "titleLineHeight": 11, "labelFontSize": 8, "tickSize": 3, "labelPadding": 1, "titlePadding": 0}},
        "color": {"field": "p", "type": "nominal", "scale": {"domain": ["0030", "0038", "0404", "0503", "0611", "0612", "0613", "0417", "0026", "0411", "0604", "1003"], "range": ["#e02020", "#2eaa2e", "#a030e0", "#111111", "#5050b8", "#e050b0", "#901818", "#1aa0a0", "#2020e0", "#f0a020", "#a89050", "#e0307a"]},
          "legend": {"title": null, "orient": "none", "legendX": 166, "legendY": -50, "padding": 0, "symbolType": "M-1,0H3", "symbolSize": 100, "symbolStrokeWidth": 1.5, "labelFontSize": 10, "labelOffset": 31, "rowPadding": 4,
            "encode": {"symbols": {"update": {"strokeDash": {"signal": "indexof(['0026','0411','0604','1003'], datum.value) >= 0 ? [3,2] : [1,0]"}}}}}},
        "strokeDash": {"field": "p", "type": "nominal", "scale": {"domain": ["0030", "0038", "0404", "0503", "0611", "0612", "0613", "0417", "0026", "0411", "0604", "1003"], "range": [[1,0],[1,0],[1,0],[1,0],[1,0],[1,0],[1,0],[1,0],[3,2],[3,2],[3,2],[3,2]]}, "legend": null}
      }}
    ]},
   {"bounds": "flush",
    "title": {"text": "b", "anchor": "start", "frame": "group", "dx": -1, "offset": -13, "fontSize": 12, "fontWeight": "bold"},
    "vconcat": [
     {"width": 180, "height": 270,
      "title": {"text": "Timeline", "offset": 10},
      "encoding": {
        "y": {"field": "p", "type": "nominal", "scale": {"domain": ["0010","0604","0603","0605","0503","0506","0026","0030","0404","0411","0612","0611","0613","0038","1003","0417"," ","Median","Mean"], "paddingInner": 0.28, "paddingOuter": 0.3},
              "axis": {"title": "Patient ID", "titleFontSize": 12, "labelFontSize": 7, "tickSize": 3, "titlePadding": 6}}
      },
      "layer": [
        {"data": {"name": "tl"},
         "transform": [{"filter": "indexof(['IC','BI','IM','TC','PS'], datum.c) >= 0"}],
         "mark": {"type": "bar", "stroke": "#555", "strokeWidth": 0.4},
         "encoding": {
           "x": {"field": "a", "type": "quantitative", "scale": {"domain": [0, 600]}, "axis": {"values": [0, 200, 400, 600], "title": "Time (Days)", "titleFontSize": 12, "labelFontSize": 8}},
           "x2": {"field": "b"},
           "color": {"field": "c", "type": "nominal", "scale": {"domain": ["IC","BI","IM","TC","PS"], "range": ["#a0a0a0","#ee1111","#ff6a10","#c8c810","#7f7f10"]},
             "legend": {"title": "Screening: TCR  Discovery & Verification", "orient": "none", "legendX": 187, "legendY": 1, "padding": 0, "titleFontSize": 10, "titleColor": "#333", "titlePadding": 8, "symbolType": "M-1,-0.67H3.2V0.67H-1Z", "symbolSize": 100, "symbolStrokeColor": "#666", "symbolStrokeWidth": 0.5, "labelFontSize": 7, "labelOffset": 15, "rowPadding": 6.5,
               "labelExpr": "datum.value == 'IC' ? ['Informed consent to sequenced biopsy accepted', 'for pipeline analysis'] : datum.value == 'BI' ? 'Bioinformatics' : datum.value == 'IM' ? 'imPACT isolation technology' : datum.value == 'TC' ? ['T cell prototype and functional characterization', 'in healthy donor T cells'] : 'Product selection'"}}
         }},
        {"data": {"name": "tl"},
         "transform": [{"filter": "indexof(['PM','TB','CM','QC','CR'], datum.c) >= 0"}],
         "mark": {"type": "bar", "stroke": "#555", "strokeWidth": 0.4},
         "encoding": {
           "x": {"field": "a", "type": "quantitative"},
           "x2": {"field": "b"},
           "color": {"field": "c", "type": "nominal", "scale": {"domain": ["PM","TB","CM","QC","CR"], "range": ["#18b018","#d4d4d4","#0a0ae0","#b455e0","#ffffff"]},
             "legend": {"title": "Enrolment: Plasmid & Cell Manufacturing", "orient": "none", "legendX": 187, "legendY": 133, "padding": 0, "titleFontSize": 10, "titleColor": "#333", "titlePadding": 8, "symbolType": "M-1,-0.67H3.2V0.67H-1Z", "symbolSize": 100, "symbolStrokeColor": "#666", "symbolStrokeWidth": 0.5, "labelFontSize": 7, "labelOffset": 15, "rowPadding": 8.5,
               "labelExpr": "datum.value == 'PM' ? 'Plasmid manufacturing' : datum.value == 'TB' ? 'Time before plasmid manufacturing or apheresis' : datum.value == 'CM' ? 'Cell manufacturing' : datum.value == 'QC' ? 'Quality control testing and lot release' : 'Cryopreservation before dosing'"}}
         }},
        {"data": {"name": "tlNote"},
         "mark": {"type": "text", "align": "left", "dx": 7, "fontSize": 9, "fill": "#222"},
         "encoding": {
           "x": {"field": "x", "type": "quantitative"},
           "text": {"field": "n", "type": "nominal"}
         }}
      ],
      "resolve": {"scale": {"color": "independent"}}
     }
    ]}
  ]},
  {"spacing": -5,
   "resolve": {"scale": {"color": "independent", "shape": "independent", "strokeDash": "independent", "size": "independent"}, "legend": {"color": "independent", "shape": "independent", "strokeDash": "independent", "size": "independent"}},
   "title": {"text": "c", "anchor": "start", "frame": "group", "dx": -37, "offset": -13, "fontSize": 12, "fontWeight": "bold"},
   "vconcat": [
    {"spacing": 0, "bounds": "flush",
     "resolve": {"scale": {"color": "independent", "shape": "independent", "strokeDash": "independent", "size": "independent"}, "legend": {"color": "independent", "shape": "independent", "strokeDash": "independent", "size": "independent"}},
     "hconcat": [
     {"width": 21, "height": 10, "data": {"values": [{"z": 0}]}, "mark": {"type": "point", "opacity": 0}, "encoding": {}},
     {"spacing": 71, "bounds": "flush",
      "resolve": {"scale": {"color": "independent", "shape": "independent", "strokeDash": "independent", "size": "independent"}, "legend": {"color": "independent", "shape": "independent", "strokeDash": "independent", "size": "independent"}},
      "hconcat": [
      {"width": 154, "height": 102,
       "title": {"text": "Dose Level 1", "offset": 1},
       "data": {"name": "c1p"},
       "encoding": {
         "x": {"field": "d", "type": "quantitative", "scale": {"domain": [0, 60]}, "axis": {"values": [0,2,4,6,8,10,12,14,16,18,20,22,24,26,28,30,32,34,36,38,40,42,44,46,48,50,52,54,56,58,60], "labelExpr": "datum.value % 20 == 0 ? datum.label : ''", "labelOverlap": false, "labelFontSize": 7, "tickColor": "#000", "tickSize": {"condition": {"test": "datum.value % 20 == 0", "value": 4}, "value": 2.5}, "title": null}},
         "y": {"field": "v", "type": "quantitative", "scale": {"domain": [0, 40]}, "axis": {"values": [0, 10, 20, 30, 40], "labelFontSize": 7, "labelPadding": 1, "title": ["% of T cells", "(Individual  NeoTCR  Products)"], "titleFontSize": 11, "titleLineHeight": 11, "titlePadding": 12}}
       },
       "layer": [
        {"mark": {"type": "line", "strokeWidth": 1, "clip": true},
         "encoding": {
           "color": {"field": "p", "type": "nominal", "scale": {"domain": ["0010","0506","0603","0605","0411 + IL-2","0604 + IL-2"], "range": ["#E69F00","#1FA078","#EEDD44","#D2691E","#56B4E9","#2473B0"]},
             "legend": {"title": null, "orient": "none", "legendX": 67, "legendY": -5.5, "padding": 0, "symbolSize": 100, "labelFontSize": 10.5, "labelOffset": 23, "rowPadding": 4,
               "encode": {"symbols": {"update": {
                 "shape": {"signal": "test(/^(0010|0038)/, datum.value) ? 'M-1,0H3.4M1.7,0A0.5,0.5 0 1,1 0.7,0A0.5,0.5 0 1,1 1.7,0Z' : test(/^(0506|0603|0503|0612|1003)/, datum.value) ? 'M-1,0H3.4M0.75,-0.45H1.65V0.45H0.75Z' : test(/^0411/, datum.value) ? 'M-1,0H3.4M1.2,-0.8L1.95,0.6H0.45Z' : test(/^(0605|0404|0613)/, datum.value) ? 'M-1,0H3.4M1.2,-0.55L1.7,0.4H0.7Z' : test(/^(0604|0611|0417)/, datum.value) ? 'M-1,0H3.4M1.2,0.55L1.7,-0.4H0.7Z' : 'M-1,0H3.4M1.2,-0.6L1.65,0L1.2,0.6L0.75,0Z'"},
                 "fill": {"signal": "test(/^(0010|0026|0038)/, datum.value) ? '#E69F00' : test(/^(0506|0404|0613)/, datum.value) ? '#1FA078' : test(/^(0603|0503)/, datum.value) ? '#EEDD44' : test(/^(0605|1003|0417)/, datum.value) ? '#D2691E' : test(/^(0411|0030|0612)/, datum.value) ? '#56B4E9' : '#2473B0'"},
                 "stroke": {"signal": "test(/^(0010|0026|0038)/, datum.value) ? '#E69F00' : test(/^(0506|0404|0613)/, datum.value) ? '#1FA078' : test(/^(0603|0503)/, datum.value) ? '#EEDD44' : test(/^(0605|1003|0417)/, datum.value) ? '#D2691E' : test(/^(0411|0030|0612)/, datum.value) ? '#56B4E9' : '#2473B0'"},
                 "strokeDash": {"signal": "test(/IL-2/, datum.value) ? [2,1.5] : [1,0]"},
                 "strokeWidth": {"value": 1}, "size": {"value": 100}, "opacity": {"value": 1}}}}}},
           "strokeDash": {"field": "p", "type": "nominal", "scale": {"domain": ["0010","0506","0603","0605","0411 + IL-2","0604 + IL-2"], "range": [[1,0],[1,0],[1,0],[1,0],[2,1.5],[2,1.5]]}, "legend": null},
           "detail": {"field": "t", "type": "nominal"}
         }},
        {"mark": {"type": "point", "filled": true, "opacity": 1},
         "encoding": {
           "color": {"field": "p", "type": "nominal", "legend": null},
           "shape": {"condition": [{"test": "indexof(['0506','0603'], datum.p) >= 0", "value": "square"}, {"test": "indexof(['0605','0411 + IL-2'], datum.p) >= 0", "value": "triangle-up"}, {"test": "datum.p == '0604 + IL-2'", "value": "triangle-down"}], "value": "circle"},
           "size": {"condition": {"test": "datum.p == '0411 + IL-2'", "value": 60}, "value": 20}
         }}
       ]},
      {"width": 154, "height": 102,
       "title": {"text": "Dose Level 2", "offset": 21},
       "data": {"name": "c2p"},
       "encoding": {
         "x": {"field": "d", "type": "quantitative", "scale": {"domain": [0, 60]}, "axis": {"values": [0,2,4,6,8,10,12,14,16,18,20,22,24,26,28,30,32,34,36,38,40,42,44,46,48,50,52,54,56,58,60], "labelExpr": "datum.value % 20 == 0 ? datum.label : ''", "labelOverlap": false, "labelFontSize": 7, "tickColor": "#000", "tickSize": {"condition": {"test": "datum.value % 20 == 0", "value": 4}, "value": 2.5}, "title": null}},
         "y": {"field": "v", "type": "quantitative", "scale": {"domain": [0, 40]}, "axis": {"values": [0, 10, 20, 30, 40], "labelFontSize": 7, "labelPadding": 1, "title": null}}
       },
       "layer": [
        {"mark": {"type": "line", "strokeWidth": 1, "clip": true},
         "encoding": {
           "color": {"field": "p", "type": "nominal", "scale": {"domain": ["0030","0404","0503","0611","0026 + IL-2","1003 + IL-2"], "range": ["#56B4E9","#1FA078","#EEDD44","#2473B0","#E69F00","#D2691E"]},
             "legend": {"title": null, "orient": "none", "legendX": 82, "legendY": -3.5, "padding": 0, "symbolSize": 100, "labelFontSize": 10, "labelOffset": 23, "rowPadding": 1,
               "encode": {"symbols": {"update": {
                 "shape": {"signal": "test(/^(0010|0038)/, datum.value) ? 'M-1,0H3.4M1.7,0A0.5,0.5 0 1,1 0.7,0A0.5,0.5 0 1,1 1.7,0Z' : test(/^(0506|0603|0503|0612|1003)/, datum.value) ? 'M-1,0H3.4M0.75,-0.45H1.65V0.45H0.75Z' : test(/^0411/, datum.value) ? 'M-1,0H3.4M1.2,-0.8L1.95,0.6H0.45Z' : test(/^(0605|0404|0613)/, datum.value) ? 'M-1,0H3.4M1.2,-0.55L1.7,0.4H0.7Z' : test(/^(0604|0611|0417)/, datum.value) ? 'M-1,0H3.4M1.2,0.55L1.7,-0.4H0.7Z' : 'M-1,0H3.4M1.2,-0.6L1.65,0L1.2,0.6L0.75,0Z'"},
                 "fill": {"signal": "test(/^(0010|0026|0038)/, datum.value) ? '#E69F00' : test(/^(0506|0404|0613)/, datum.value) ? '#1FA078' : test(/^(0603|0503)/, datum.value) ? '#EEDD44' : test(/^(0605|1003|0417)/, datum.value) ? '#D2691E' : test(/^(0411|0030|0612)/, datum.value) ? '#56B4E9' : '#2473B0'"},
                 "stroke": {"signal": "test(/^(0010|0026|0038)/, datum.value) ? '#E69F00' : test(/^(0506|0404|0613)/, datum.value) ? '#1FA078' : test(/^(0603|0503)/, datum.value) ? '#EEDD44' : test(/^(0605|1003|0417)/, datum.value) ? '#D2691E' : test(/^(0411|0030|0612)/, datum.value) ? '#56B4E9' : '#2473B0'"},
                 "strokeDash": {"signal": "test(/IL-2/, datum.value) ? [2,1.5] : [1,0]"},
                 "strokeWidth": {"value": 1}, "size": {"value": 100}, "opacity": {"value": 1}}}}}},
           "strokeDash": {"field": "p", "type": "nominal", "scale": {"domain": ["0030","0404","0503","0611","0026 + IL-2","1003 + IL-2"], "range": [[1,0],[1,0],[1,0],[1,0],[2,1.5],[2,1.5]]}, "legend": null},
           "detail": {"field": "t", "type": "nominal"}
         }},
        {"mark": {"type": "point", "filled": true, "opacity": 1},
         "encoding": {
           "color": {"field": "p", "type": "nominal", "legend": null},
           "shape": {"condition": [{"test": "indexof(['0503','1003 + IL-2'], datum.p) >= 0", "value": "square"}, {"test": "datum.p == '0404'", "value": "triangle-up"}, {"test": "datum.p == '0611'", "value": "triangle-down"}], "value": "diamond"},
           "size": {"value": 20}
         }}
       ]},
      {"width": 154, "height": 102,
       "title": {"text": "Dose Level 3", "offset": 21},
       "data": {"name": "c3p"},
       "encoding": {
         "x": {"field": "d", "type": "quantitative", "scale": {"domain": [0, 60]}, "axis": {"values": [0,2,4,6,8,10,12,14,16,18,20,22,24,26,28,30,32,34,36,38,40,42,44,46,48,50,52,54,56,58,60], "labelExpr": "datum.value % 20 == 0 ? datum.label : ''", "labelOverlap": false, "labelFontSize": 7, "tickColor": "#000", "tickSize": {"condition": {"test": "datum.value % 20 == 0", "value": 4}, "value": 2.5}, "title": null}},
         "y": {"field": "v", "type": "quantitative", "scale": {"domain": [0, 40]}, "axis": {"values": [0, 10, 20, 30, 40], "labelFontSize": 7, "labelPadding": 1, "title": null}}
       },
       "layer": [
        {"mark": {"type": "line", "strokeWidth": 1, "clip": true},
         "encoding": {
           "color": {"field": "p", "type": "nominal", "scale": {"domain": ["0038","0612","0613","0417"], "range": ["#E69F00","#56B4E9","#1FA078","#D2691E"]},
             "legend": {"title": null, "orient": "none", "legendX": 96, "legendY": 1.5, "padding": 0, "symbolSize": 100, "labelFontSize": 10, "labelOffset": 24, "rowPadding": 1.5,
               "encode": {"symbols": {"update": {
                 "shape": {"signal": "test(/^(0010|0038)/, datum.value) ? 'M-1,0H3.4M1.7,0A0.5,0.5 0 1,1 0.7,0A0.5,0.5 0 1,1 1.7,0Z' : test(/^(0506|0603|0503|0612|1003)/, datum.value) ? 'M-1,0H3.4M0.75,-0.45H1.65V0.45H0.75Z' : test(/^0411/, datum.value) ? 'M-1,0H3.4M1.2,-0.8L1.95,0.6H0.45Z' : test(/^(0605|0404|0613)/, datum.value) ? 'M-1,0H3.4M1.2,-0.55L1.7,0.4H0.7Z' : test(/^(0604|0611|0417)/, datum.value) ? 'M-1,0H3.4M1.2,0.55L1.7,-0.4H0.7Z' : 'M-1,0H3.4M1.2,-0.6L1.65,0L1.2,0.6L0.75,0Z'"},
                 "fill": {"signal": "test(/^(0010|0026|0038)/, datum.value) ? '#E69F00' : test(/^(0506|0404|0613)/, datum.value) ? '#1FA078' : test(/^(0603|0503)/, datum.value) ? '#EEDD44' : test(/^(0605|1003|0417)/, datum.value) ? '#D2691E' : test(/^(0411|0030|0612)/, datum.value) ? '#56B4E9' : '#2473B0'"},
                 "stroke": {"signal": "test(/^(0010|0026|0038)/, datum.value) ? '#E69F00' : test(/^(0506|0404|0613)/, datum.value) ? '#1FA078' : test(/^(0603|0503)/, datum.value) ? '#EEDD44' : test(/^(0605|1003|0417)/, datum.value) ? '#D2691E' : test(/^(0411|0030|0612)/, datum.value) ? '#56B4E9' : '#2473B0'"},
                 "strokeDash": {"value": [1,0]},
                 "strokeWidth": {"value": 1}, "size": {"value": 100}, "opacity": {"value": 1}}}}}},
           "detail": {"field": "t", "type": "nominal"}
         }},
        {"mark": {"type": "point", "filled": true, "opacity": 1},
         "encoding": {
           "color": {"field": "p", "type": "nominal", "legend": null},
           "shape": {"condition": [{"test": "datum.p == '0612'", "value": "square"}, {"test": "datum.p == '0613'", "value": "triangle-up"}, {"test": "datum.p == '0417'", "value": "triangle-down"}], "value": "circle"},
           "size": {"value": 20}
         }}
       ]}
     ]}
    ]},
    {"spacing": 0, "bounds": "flush",
     "resolve": {"scale": {"color": "independent", "shape": "independent", "strokeDash": "independent", "size": "independent"}, "legend": {"color": "independent", "shape": "independent", "strokeDash": "independent", "size": "independent"}},
     "hconcat": [
     {"width": 21, "height": 10, "data": {"values": [{"z": 0}]}, "mark": {"type": "point", "opacity": 0}, "encoding": {}},
     {"spacing": 71, "bounds": "flush",
      "resolve": {"scale": {"color": "independent", "shape": "independent", "strokeDash": "independent", "size": "independent"}, "legend": {"color": "independent", "shape": "independent", "strokeDash": "independent", "size": "independent"}},
      "hconcat": [
      {"width": 154, "height": 101,
       "data": {"name": "c1a"},
       "encoding": {
         "x": {"field": "d", "type": "quantitative", "scale": {"domain": [0, 60]}, "axis": {"values": [0,2,4,6,8,10,12,14,16,18,20,22,24,26,28,30,32,34,36,38,40,42,44,46,48,50,52,54,56,58,60], "labelExpr": "datum.value % 20 == 0 ? datum.label : ''", "labelOverlap": false, "labelFontSize": 7, "tickColor": "#000", "tickSize": {"condition": {"test": "datum.value % 20 == 0", "value": 4}, "value": 2.5}, "title": "Days After Infusion", "titleFontSize": 11}},
         "y": {"field": "v", "type": "quantitative", "scale": {"type": "log", "domain": [0.1, 100]}, "axis": {"values": [0.1, 1, 10, 100], "labelExpr": "datum.value < 0.5 ? '<0.1' : datum.label", "labelFontSize": 7, "labelPadding": 1, "title": ["NeoTCR+ T cells per μL Blood", "(Individual  NeoTCR  Products)"], "titleFontSize": 11, "titleLineHeight": 12, "titlePadding": 5}}
       },
       "layer": [
        {"mark": {"type": "line", "strokeWidth": 1, "clip": true},
         "encoding": {
           "color": {"field": "p", "type": "nominal", "scale": {"domain": ["0010","0506","0603","0605","0411 + IL-2","0604 + IL-2"], "range": ["#E69F00","#1FA078","#EEDD44","#D2691E","#56B4E9","#2473B0"]}, "legend": null},
           "strokeDash": {"field": "p", "type": "nominal", "scale": {"domain": ["0010","0506","0603","0605","0411 + IL-2","0604 + IL-2"], "range": [[1,0],[1,0],[1,0],[1,0],[2,1.5],[2,1.5]]}, "legend": null},
           "detail": {"field": "t", "type": "nominal"}
         }},
        {"transform": [{"filter": "datum.v >= 0.1 && datum.d <= 60"}],
         "mark": {"type": "point", "filled": true, "opacity": 1},
         "encoding": {
           "color": {"field": "p", "type": "nominal", "legend": null},
           "shape": {"condition": [{"test": "indexof(['0506','0603'], datum.p) >= 0", "value": "square"}, {"test": "indexof(['0605','0411 + IL-2'], datum.p) >= 0", "value": "triangle-up"}, {"test": "datum.p == '0604 + IL-2'", "value": "triangle-down"}], "value": "circle"},
           "size": {"condition": {"test": "datum.p == '0411 + IL-2'", "value": 60}, "value": 20}
         }}
       ]},
      {"width": 154, "height": 101,
       "data": {"name": "c2a"},
       "encoding": {
         "x": {"field": "d", "type": "quantitative", "scale": {"domain": [0, 60]}, "axis": {"values": [0,2,4,6,8,10,12,14,16,18,20,22,24,26,28,30,32,34,36,38,40,42,44,46,48,50,52,54,56,58,60], "labelExpr": "datum.value % 20 == 0 ? datum.label : ''", "labelOverlap": false, "labelFontSize": 7, "tickColor": "#000", "tickSize": {"condition": {"test": "datum.value % 20 == 0", "value": 4}, "value": 2.5}, "title": "Days After Infusion", "titleFontSize": 11}},
         "y": {"field": "v", "type": "quantitative", "scale": {"type": "log", "domain": [0.1, 100]}, "axis": {"values": [0.1, 1, 10, 100], "labelExpr": "datum.value < 0.5 ? '<0.1' : datum.label", "labelFontSize": 7, "labelPadding": 1, "title": null}}
       },
       "layer": [
        {"mark": {"type": "line", "strokeWidth": 1, "clip": true},
         "encoding": {
           "color": {"field": "p", "type": "nominal", "scale": {"domain": ["0030","0404","0503","0611","0026 + IL-2","1003 + IL-2"], "range": ["#56B4E9","#1FA078","#EEDD44","#2473B0","#E69F00","#D2691E"]}, "legend": null},
           "strokeDash": {"field": "p", "type": "nominal", "scale": {"domain": ["0030","0404","0503","0611","0026 + IL-2","1003 + IL-2"], "range": [[1,0],[1,0],[1,0],[1,0],[2,1.5],[2,1.5]]}, "legend": null},
           "detail": {"field": "t", "type": "nominal"}
         }},
        {"transform": [{"filter": "datum.v >= 0.1 && datum.d <= 60"}],
         "mark": {"type": "point", "filled": true, "opacity": 1},
         "encoding": {
           "color": {"field": "p", "type": "nominal", "legend": null},
           "shape": {"condition": [{"test": "indexof(['0503','1003 + IL-2'], datum.p) >= 0", "value": "square"}, {"test": "datum.p == '0404'", "value": "triangle-up"}, {"test": "datum.p == '0611'", "value": "triangle-down"}], "value": "diamond"},
           "size": {"value": 20}
         }}
       ]},
      {"width": 154, "height": 101,
       "data": {"name": "c3a"},
       "encoding": {
         "x": {"field": "d", "type": "quantitative", "scale": {"domain": [0, 60]}, "axis": {"values": [0,2,4,6,8,10,12,14,16,18,20,22,24,26,28,30,32,34,36,38,40,42,44,46,48,50,52,54,56,58,60], "labelExpr": "datum.value % 20 == 0 ? datum.label : ''", "labelOverlap": false, "labelFontSize": 7, "tickColor": "#000", "tickSize": {"condition": {"test": "datum.value % 20 == 0", "value": 4}, "value": 2.5}, "title": "Days After Infusion", "titleFontSize": 11}},
         "y": {"field": "v", "type": "quantitative", "scale": {"type": "log", "domain": [0.1, 100]}, "axis": {"values": [0.1, 1, 10, 100], "labelExpr": "datum.value < 0.5 ? '<0.1' : datum.label", "labelFontSize": 7, "labelPadding": 1, "title": null}}
       },
       "layer": [
        {"mark": {"type": "line", "strokeWidth": 1, "clip": true},
         "encoding": {
           "color": {"field": "p", "type": "nominal", "scale": {"domain": ["0038","0612","0613","0417"], "range": ["#E69F00","#56B4E9","#1FA078","#D2691E"]}, "legend": null},
           "detail": {"field": "t", "type": "nominal"}
         }},
        {"transform": [{"filter": "datum.v >= 0.1 && datum.d <= 60"}],
         "mark": {"type": "point", "filled": true, "opacity": 1},
         "encoding": {
           "color": {"field": "p", "type": "nominal", "legend": null},
           "shape": {"condition": [{"test": "datum.p == '0612'", "value": "square"}, {"test": "datum.p == '0613'", "value": "triangle-up"}, {"test": "datum.p == '0417'", "value": "triangle-down"}], "value": "circle"},
           "size": {"value": 20}
         }}
       ]}
     ]}
    ]}
   ]}
 ]},
 {"spacing": 0, "bounds": "flush",
  "resolve": {"scale": {"color": "independent"}, "legend": {"color": "independent"}},
  "title": {"text": "d", "anchor": "start", "frame": "group", "dx": 40, "offset": -11, "fontSize": 12, "fontWeight": "bold"},
  "hconcat": [
   {"width": 101, "height": 10, "data": {"values": [{"z": 0}]}, "mark": {"type": "point", "opacity": 0}, "encoding": {}},
   {"spacing": 113, "bounds": "flush",
    "hconcat": [
    {"width": 151, "height": 101,
     "title": {"text": "% Infused of Total - All TCRs", "offset": -6, "fontSize": 10.5},
     "data": {"name": "dAll"},
     "encoding": {
       "x": {"field": "x", "type": "quantitative", "scale": {"domain": [0, 50]}, "axis": {"values": [0, 10, 20, 30, 40, 50], "title": "%NeoTCR Infused (of Total)", "titleFontSize": 10.5, "labelFontSize": 7.5}},
       "y": {"field": "y", "type": "quantitative", "scale": {"domain": [0, 250]}, "axis": {"values": [0, 50, 100, 150, 200, 250], "title": ["AUC Day 0-7", "NeoTCR+ % of CD5+ T Cells"], "titleFontSize": 10.5, "titleLineHeight": 11, "labelFontSize": 7.5, "titlePadding": 6}}
     },
     "layer": [
      {"transform": [{"filter": "datum.sx != null"}],
       "mark": {"type": "rule", "color": "#444", "strokeWidth": 0.6},
       "encoding": {"x": {"field": "sx", "type": "quantitative"}, "y": {"field": "sy", "type": "quantitative"}, "x2": {"field": "ex"}, "y2": {"field": "ey"}}},
      {"mark": {"type": "circle", "color": "#000", "opacity": 1, "size": 22}},
      {"mark": {"type": "text", "align": "left", "baseline": "middle", "fontSize": 6.8, "fill": "#222", "color": "#222"},
       "encoding": {"x": {"field": "lx", "type": "quantitative"}, "y": {"field": "ly", "type": "quantitative"}, "text": {"field": "p", "type": "nominal"}}}
     ]},
    {"width": 153, "height": 101,
     "title": {"text": "*% Infused of Total - Individual TCRs", "offset": -6, "fontSize": 10.5},
     "data": {"name": "dInd"},
     "mark": {"type": "circle", "color": "#000", "opacity": 1, "size": 22},
     "encoding": {
       "x": {"field": "x", "type": "quantitative", "scale": {"domain": [0, 50]}, "axis": {"values": [0, 10, 20, 30, 40, 50], "title": "%NeoTCR Infused (of Total)", "titleFontSize": 10.5, "labelFontSize": 7.5}},
       "y": {"field": "y", "type": "quantitative", "scale": {"domain": [0, 250]}, "axis": {"values": [0, 50, 100, 150, 200, 250], "title": ["AUC Day 0-7", "NeoTCR+ % of CD5+ T Cells"], "titleFontSize": 10.5, "titleLineHeight": 11, "labelFontSize": 7.5, "titlePadding": 6}}
     }}
   ]}
  ]}
]
}
